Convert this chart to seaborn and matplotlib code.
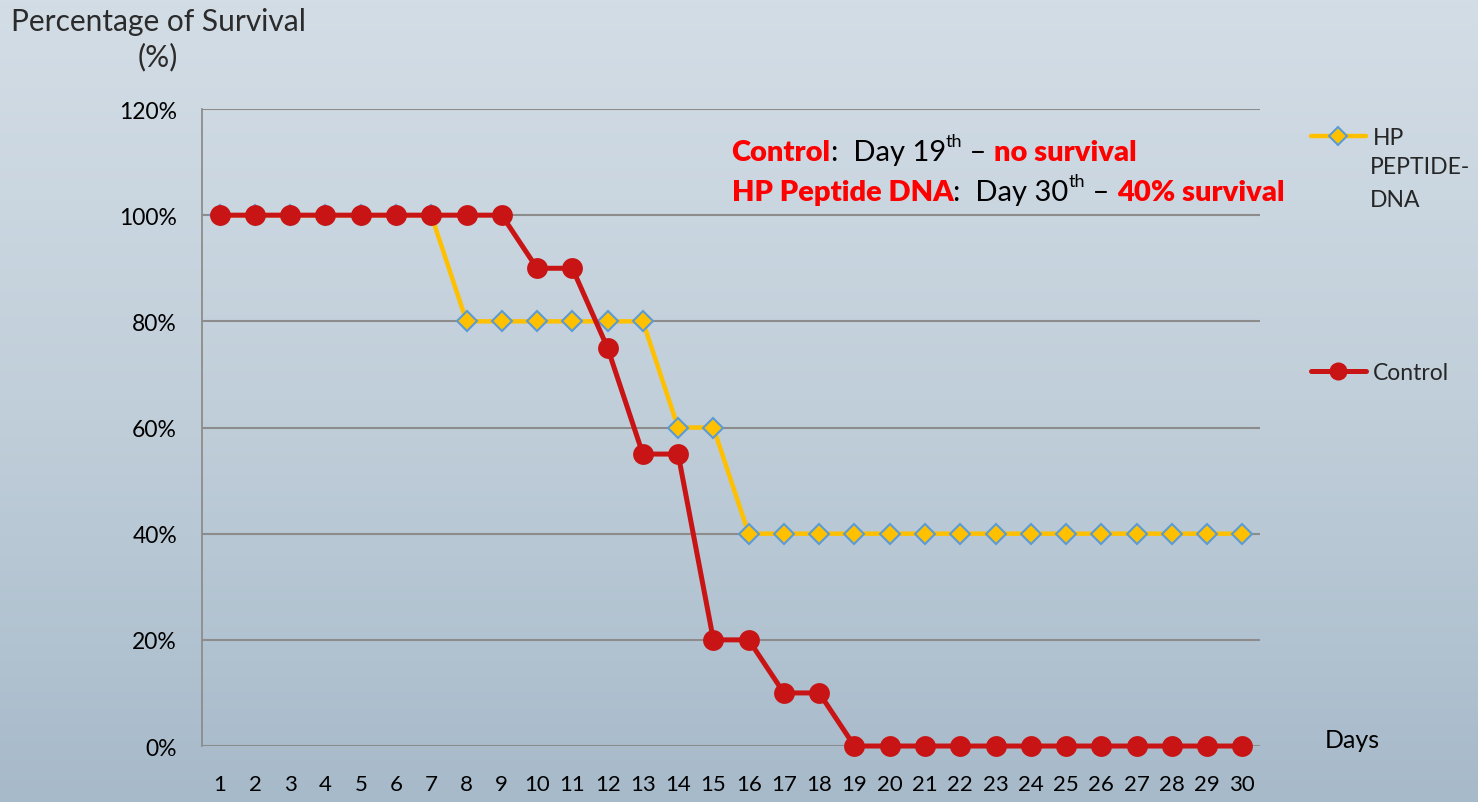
import matplotlib
matplotlib.use("Agg")
import matplotlib.pyplot as plt
import numpy as np
import pandas as pd
import seaborn as sns
from matplotlib.lines import Line2D
from matplotlib.ticker import FuncFormatter

# Data
days = list(range(1, 31))
hp_peptide_dna = [100, 100, 100, 100, 100, 100, 100, 80, 80, 80,
                  80, 80, 80, 60, 60, 40, 40, 40, 40, 40,
                  40, 40, 40, 40, 40, 40, 40, 40, 40, 40]
control = [100, 100, 100, 100, 100, 100, 100, 100, 100, 90,
           90, 75, 55, 55, 20, 20, 10, 10, 0, 0,
           0, 0, 0, 0, 0, 0, 0, 0, 0, 0]
y_ticks = [0, 20, 40, 60, 80, 100, 120]

HP_COLOR = "#FFC000"
HP_EDGE = "#5B9BD5"
CTRL_COLOR = "#C81414"
RED_TEXT = "#FF0000"
GRID = "#8C8C8C"

sns.set_theme(style="white")
plt.rcParams["font.family"] = ["Lato", "DejaVu Sans"]

df = pd.DataFrame({"day": days, "HP PEPTIDE-DNA": hp_peptide_dna, "Control": control})

fig = plt.figure(figsize=(14.78, 8.03), dpi=100)

# background gradient
bg = fig.add_axes([0, 0, 1, 1], zorder=-10)
grad = np.linspace(0, 1, 256).reshape(-1, 1)
cmap = matplotlib.colors.LinearSegmentedColormap.from_list("bg", ["#D3DDE6", "#C1CFDA", "#A7BACA"])
bg.imshow(grad, aspect="auto", cmap=cmap, extent=[0, 1, 0, 1], origin="upper")
bg.axis("off")

ax = fig.add_axes([0.1367, 0.0697, 0.7158, 0.7933])
ax.set_facecolor("none")

sns.lineplot(data=df, x="day", y="HP PEPTIDE-DNA", ax=ax, color=HP_COLOR, linewidth=3.2,
             marker="D", markersize=10, markerfacecolor=HP_COLOR, markeredgecolor=HP_EDGE,
             markeredgewidth=1.5, zorder=3)
sns.lineplot(data=df, x="day", y="Control", ax=ax, color=CTRL_COLOR, linewidth=3.6,
             marker="o", markersize=15, markerfacecolor=CTRL_COLOR, markeredgecolor=CTRL_COLOR,
             markeredgewidth=0, zorder=4)

ax.set_xlim(0.5, 30.5)
ax.set_ylim(0, 120)
ax.set_xticks(days)
ax.set_yticks(y_ticks)
ax.yaxis.set_major_formatter(FuncFormatter(lambda v, _: f"{v:.0f}%"))
ax.tick_params(axis="x", labelsize=16, colors="black", length=0, pad=20)
ax.tick_params(axis="y", labelsize=16.5, colors="black", length=0, pad=18)
ax.set_xlabel("")
ax.set_ylabel("")
ax.grid(axis="y", color=GRID, linewidth=1.5)
ax.grid(axis="x", visible=False)
ax.set_axisbelow(True)
for side in ["top", "right", "bottom"]:
    ax.spines[side].set_visible(False)
ax.spines["left"].set_color(GRID)
ax.spines["left"].set_linewidth(1.3)
for ln in ax.lines:
    ln.set_clip_on(False)

# axis titles
fig.text(0.107, 0.99, "Percentage of Survival\n(%)", ha="center", va="top", fontsize=21.5,
         fontweight="normal", color="#2b2b2b", linespacing=1.3)
fig.text(0.896, 0.078, "Days", ha="left", va="center", fontsize=18, color="black")

# annotation with mixed styles
renderer = fig.canvas.get_renderer()


def draw_pieces(x0, y0, pieces):
    x = x0
    for txt, color, weight, size, dy in pieces:
        t = fig.text(x, y0 + dy, txt, color=color, fontweight=weight, fontsize=size,
                     ha="left", va="baseline")
        bb = t.get_window_extent(renderer=renderer)
        x += bb.width / fig.bbox.width


draw_pieces(0.495, 0.8, [
    ("Control", RED_TEXT, "heavy", 21, 0),
    (":  Day 19", "black", "normal", 21, 0),
    ("th", "black", "normal", 13, 0.017),
    (" \u2013 ", "black", "normal", 21, 0),
    ("no survival", RED_TEXT, "heavy", 21, 0),
])
draw_pieces(0.495, 0.75, [
    ("HP Peptide DNA", RED_TEXT, "heavy", 21, 0),
    (":  Day 30", "black", "normal", 21, 0),
    ("th", "black", "normal", 13, 0.017),
    (" \u2013 ", "black", "normal", 21, 0),
    ("40% survival", RED_TEXT, "heavy", 21, 0),
])

# legend on the right
hp_handle = Line2D([], [], color=HP_COLOR, linewidth=3.2, marker="D", markersize=9,
                   markerfacecolor=HP_COLOR, markeredgecolor=HP_EDGE, markeredgewidth=1.5)
ctrl_handle = Line2D([], [], color=CTRL_COLOR, linewidth=3.6, marker="o", markersize=13,
                     markerfacecolor=CTRL_COLOR, markeredgewidth=0)
leg1 = fig.legend([hp_handle], ["HP"], loc="center left", bbox_to_anchor=(0.887, 0.828),
                  frameon=False, fontsize=16.5, handlelength=2.4, handletextpad=0.3,
                  borderpad=0, borderaxespad=0)
fig.text(0.927, 0.805, "PEPTIDE-\nDNA", ha="left", va="top", fontsize=16.5, linespacing=1.75)
leg2 = fig.legend([ctrl_handle], ["Control"], loc="center left", bbox_to_anchor=(0.887, 0.535),
                  frameon=False, fontsize=16.5, handlelength=2.4, handletextpad=0.3,
                  borderpad=0, borderaxespad=0)

fig.savefig("out.png", dpi=100)
